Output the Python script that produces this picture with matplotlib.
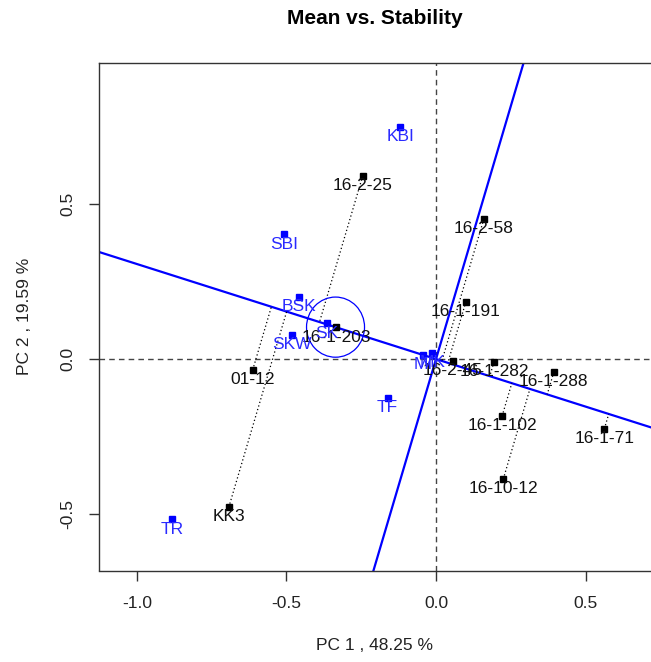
import numpy as np
import matplotlib
matplotlib.use("Agg")
import matplotlib.pyplot as plt
from matplotlib.patches import Circle

plt.rcParams['font.family'] = ['Liberation Sans', 'DejaVu Sans']

# ---- data ----
env_names = ["KBI", "SBI", "BSK", "SKW", "SK", "TF", "TR", "MI", "MK"]
env_pc1 = [-0.120, -0.508, -0.457, -0.483, -0.366, -0.162, -0.882, -0.043, -0.013]
env_pc2 = [0.748, 0.402, 0.201, 0.077, 0.115, -0.124, -0.517, 0.013, 0.019]

gen_names = ["16-2-25", "16-2-58", "16-1-191", "16-1-203", "01-12", "KK3",
             "16-1-282", "16-2-45", "16-1-288", "16-1-102", "16-1-71", "16-10-12"]
gen_pc1 = [-0.245, 0.160, 0.100, -0.334, -0.613, -0.693,
           0.194, 0.057, 0.394, 0.221, 0.563, 0.225]
gen_pc2 = [0.591, 0.452, 0.185, 0.102, -0.035, -0.478,
           -0.009, -0.005, -0.042, -0.184, -0.225, -0.387]

# average environment coordinate and circle radius
aec_pc1 = -0.336
aec_pc2 = 0.103
aec_radius = 0.097

x_ticks = [-1.0, -0.5, 0.0, 0.5]
y_ticks = [-0.5, 0.0, 0.5]
title = "Mean vs. Stability"
xlabel = "PC 1 , 48.25 %"
ylabel = "PC 2 , 19.59 %"

# ---- figure ----
W, H = 651, 662
fig = plt.figure(figsize=(W / 100, H / 100), dpi=100)
L, R, T, B = 98.7, 651.0, 62.7, 570.5
ax = fig.add_axes([L / W, 1 - B / H, (R - L) / W, (B - T) / H])
xlim = (-1.128, 0.719)
ylim = (-0.682, 0.956)
ax.set_xlim(*xlim)
ax.set_ylim(*ylim)

# reference dashed axes
ax.axhline(0, color="#444444", lw=1.0, ls=(0, (4, 3)), zorder=1)
ax.axvline(0, color="#444444", lw=1.0, ls=(0, (4, 3)), zorder=1)

# average environment axis and its perpendicular
slope = aec_pc2 / aec_pc1
xx = np.array([-2.0, 2.0])
ax.plot(xx, slope * xx, color="blue", lw=1.6, zorder=2)
yy = np.array([-2.0, 2.0])
ax.plot(-slope * yy, yy, color="blue", lw=1.6, zorder=2)

# projections of genotypes onto the AEA
u = np.array([aec_pc1, aec_pc2]) / np.hypot(aec_pc1, aec_pc2)
for gx, gy in zip(gen_pc1, gen_pc2):
    d = gx * u[0] + gy * u[1]
    px, py = d * u[0], d * u[1]
    ax.plot([gx, px], [gy, py], color="black", lw=0.9, ls=(0, (1, 2)), zorder=3)

# circle around the average environment
ax.add_patch(Circle((aec_pc1, aec_pc2), aec_radius, fill=False,
                    edgecolor="blue", lw=0.9, zorder=3))

# points
ax.plot(gen_pc1, gen_pc2, ls="none", marker="s", ms=4, color="black", zorder=4)
ax.plot(env_pc1, env_pc2, ls="none", marker="s", ms=4, color="blue", zorder=4)

for n, x, y in zip(gen_names, gen_pc1, gen_pc2):
    ax.annotate(n, (x, y), xytext=(0, -7), textcoords="offset points",
                ha="center", va="center", fontsize=12.5, color="#111111", zorder=5)
for n, x, y in zip(env_names, env_pc1, env_pc2):
    ax.annotate(n, (x, y), xytext=(0, -7), textcoords="offset points",
                ha="center", va="center", fontsize=12.5, color="#2a2aff", zorder=5)

# axes styling
for s in ["left", "bottom", "top"]:
    ax.spines[s].set_color("#333333")
    ax.spines[s].set_linewidth(1.0)
ax.spines["right"].set_visible(False)
ax.set_xticks(x_ticks)
ax.set_xticklabels(["%.1f" % v for v in x_ticks])
ax.set_yticks(y_ticks)
ax.set_yticklabels(["%.1f" % v for v in y_ticks], rotation=90, va="center")
ax.tick_params(axis="both", direction="out", length=7, width=1.0,
               color="#333333", labelsize=12.5, labelcolor="#222222")
ax.tick_params(axis="x", pad=11)
ax.tick_params(axis="y", pad=10)

fig.text(375 / W, 1 - 18 / H, title, ha="center", va="center",
         fontsize=15, fontweight="bold")
fig.text(375 / W, 1 - 646 / H, xlabel, ha="center", va="center",
         fontsize=12.5, color="#222222")
fig.text(25 / W, 1 - 316.6 / H, ylabel, ha="center", va="center",
         rotation=90, fontsize=12.5, color="#222222")

fig.savefig("out.png", dpi=100)
